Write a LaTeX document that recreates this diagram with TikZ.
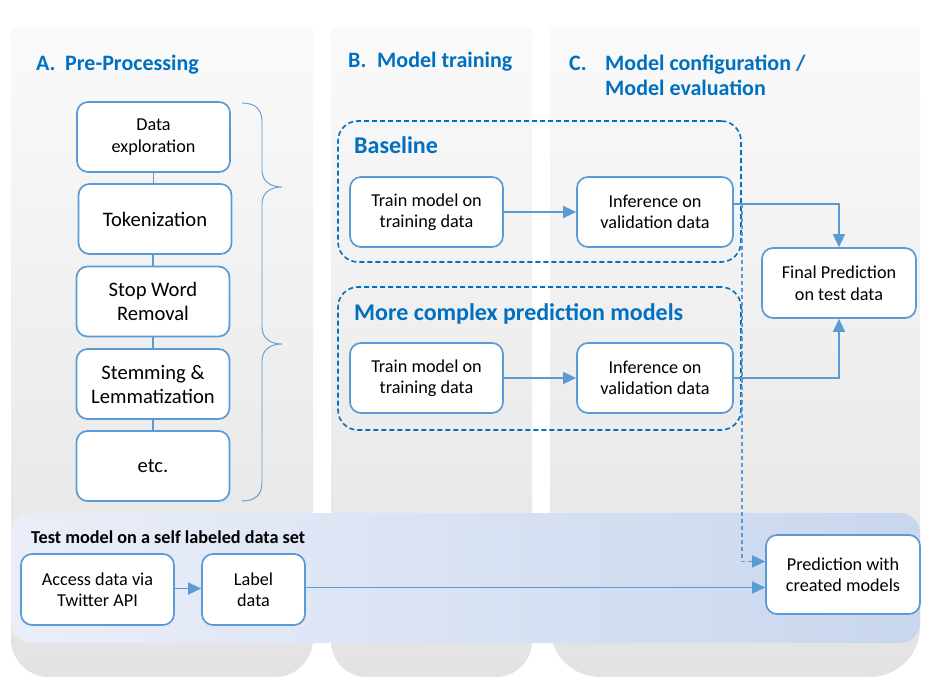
\documentclass[tikz,border=0pt]{standalone}
\usepackage{fontspec}
\setmainfont{Carlito}
\usetikzlibrary{arrows.meta}
\definecolor{boxblue}{HTML}{5B9BD5}
\definecolor{titleblue}{HTML}{0070C0}
\tikzset{
  box/.style={draw=boxblue, line width=1.7pt, rounded corners=11pt, fill=white, align=center,
    inner sep=0pt, minimum width=153pt, minimum height=70pt, font=\fontsize{18.2}{21.5}\selectfont},
  bigbox/.style={box, font=\fontsize{20.6}{24}\selectfont},
  grp/.style={draw=titleblue, line width=1.6pt, dash pattern=on 5pt off 3pt, rounded corners=20pt,
    inner sep=0pt, minimum width=403pt},
  sectitle/.style={text=titleblue, font=\bfseries\fontsize{22}{26}\selectfont, anchor=base west, inner sep=0pt},
  grptitle/.style={text=titleblue, font=\bfseries\fontsize{24}{28}\selectfont, anchor=base west, inner sep=0pt},
  arr/.style={draw=boxblue, line width=1.5pt, -{Triangle[length=13pt,width=12pt]}},
  dasharr/.style={arr, dash pattern=on 4pt off 3pt},
  link/.style={draw=boxblue, line width=1.4pt},
  bracepath/.style={draw=boxblue, line width=0.9pt},
}
\begin{document}
\begin{tikzpicture}[x=1pt, y=-1pt]
\useasboundingbox (0,0) rectangle (932,695);
\fill[white] (0,0) rectangle (932,695);
% columns
\shade[top color=white!98!black, bottom color=black!11] (11,28) -- (313,28) [rounded corners=38pt] -- (313,677) -- (11,677) [sharp corners] -- cycle;
\shade[top color=white!98!black, bottom color=black!11] (331,28) -- (532,28) [rounded corners=36pt] -- (532,677) -- (331,677) [sharp corners] -- cycle;
\shade[top color=white!98!black, bottom color=black!11] (550,28) -- (920,28) [rounded corners=50pt] -- (920,677) -- (550,677) [sharp corners] -- cycle;
% bottom band
\shade[left color={rgb,255:red,234;green,238;blue,248}, right color={rgb,255:red,200;green,214;blue,238}, rounded corners=20pt] (11,513) rectangle (920,643);

% titles
\node[sectitle] (tA) at (36,71) {A.};
\node[sectitle] (tAt) at (65,71) {Pre-Processing};
\node[sectitle] (tB) at (348,68) {B.};
\node[sectitle] (tBt) at (377,68) {Model training};
\node[sectitle] (tC) at (569,71) {C.};
\node[sectitle] (tCt) at (605,71) {Model configuration /};
\node[sectitle] (tCt2) at (605,96) {Model evaluation};

% pre-processing boxes
\node[box] (b1) at (153.5,137) {Data\\exploration};
\node[bigbox] (b2) at (155,219) {Tokenization};
\node[bigbox] (b3) at (153,301.5) {Stop Word\\Removal};
\node[bigbox] (b4) at (153,384) {Stemming \&\\Lemmatization};
\node[bigbox] (b5) at (153,466) {etc.};
\draw[link] (b1.south) -- (b1.south |- b2.north);
\draw[link] (b2.south -| b3.north) -- (b3.north);
\draw[link] (b3.south) -- (b4.north);
\draw[link] (b4.south) -- (b5.north);

% brace
\draw[bracepath] (242,103) .. controls (256,103) and (262,110) .. (262,122) -- (262,170)
  .. controls (262,181) and (270,187) .. (282,187) .. controls (270,187) and (262,193) .. (262,204)
  -- (262,327) .. controls (262,338) and (270,344) .. (282,344) .. controls (270,344) and (262,350) .. (262,361)
  -- (262,482) .. controls (262,494) and (256,501) .. (242,501);

% groups
\node[grp, minimum height=141pt] (g1) at (539.5,191.5) {};
\node[grp, minimum height=143pt] (g2) at (539.5,358.5) {};
\node[grptitle] (g1t) at (354,154) {Baseline};
\node[grptitle] (g2t) at (354,320) {More complex prediction models};

\node[box] (t1) at (426.5,212) {Train model on\\training data};
\node[box, minimum width=156pt] (i1) at (655,212) {Inference on\\validation data};
\node[box] (t2) at (426.5,378) {Train model on\\training data};
\node[box, minimum width=156pt] (i2) at (655,378) {Inference on\\validation data};
\node[box, minimum width=154pt] (fin) at (839,283) {Final Prediction\\on test data};

\draw[arr] (t1) -- (i1);
\draw[arr] (t2) -- (i2);
\coordinate (o1) at ([yshift=8pt]i1.east);
\draw[arr] (o1) -| (fin.north);
\draw[arr] (i2.east) -| (fin.south);

% bottom band content
\node[anchor=base west, inner sep=0pt, font=\bfseries\fontsize{18.2}{21}\selectfont] (bt) at (31,543) {Test model on a self labeled data set};
\node[box, minimum height=71pt] (acc) at (97.5,589.5) {Access data via\\Twitter API};
\node[box, minimum width=103pt, minimum height=71pt] (lab) at (253.5,589.5) {Label\\data};
\node[box, minimum width=154pt, minimum height=79pt] (pred) at (843,574.5) {Prediction with\\created models};

\draw[arr] ([yshift=1pt]acc.east) -- ([yshift=1pt]lab.west);
\draw[arr] ([yshift=2pt]lab.east) -- ([yshift=2pt]lab.east -| pred.west);
\coordinate (d0) at (o1 -| g1.east);
\draw[dasharr] (d0) |- ([yshift=13pt]pred.west);
\end{tikzpicture}
\end{document}
